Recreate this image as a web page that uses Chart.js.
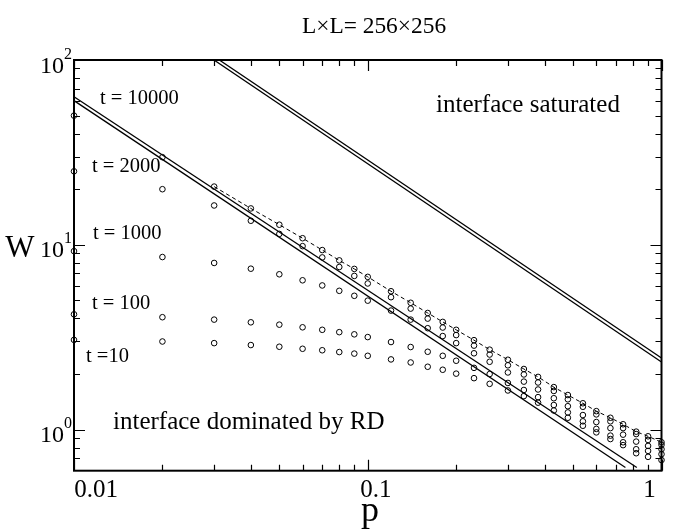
<!DOCTYPE html>
<html><head><meta charset="utf-8">
<script src="https://cdn.jsdelivr.net/npm/chart.js@4/dist/chart.umd.min.js"></script>
<style>html,body{margin:0;padding:0;background:#fff;}#wrap{width:678px;height:532px;position:relative;}</style>
</head><body><div id="wrap"><canvas id="c" width="678" height="532"></canvas></div>
<script>
// ---------- data ----------
const pValues = [0.01,0.02,0.03,0.04,0.05,0.06,0.07,0.08,0.09,0.1,0.12,0.14,0.16,0.18,0.2,0.23,0.26,0.3,0.34,0.38,0.43,0.48,0.54,0.6,0.67,0.74,0.82,0.9,1.0];
const W_t10000 = [50,29.8,20.66,15.74,12.85,10.86,9.37,8.24,7.41,6.71,5.61,4.86,4.28,3.83,3.47,3.05,2.71,2.39,2.13,1.93,1.70,1.54,1.39,1.26,1.16,1.07,0.976,0.921,0.855];
const W_t2000  = [25,20.0,16.33,13.5,11.46,9.84,8.55,7.59,6.79,6.18,5.21,4.52,3.99,3.57,3.25,2.85,2.55,2.23,1.99,1.80,1.62,1.46,1.33,1.21,1.11,1.02,0.947,0.88,0.829];
const W_t1000  = [9.25,8.59,7.98,7.43,6.93,6.43,6.03,5.64,5.30,4.99,4.41,3.94,3.54,3.21,2.94,2.59,2.33,2.04,1.82,1.65,1.48,1.34,1.20,1.10,1.02,0.94,0.862,0.817,0.784];
const W_t100   = [4.21,4.06,3.94,3.81,3.70,3.58,3.47,3.37,3.28,3.17,2.98,2.80,2.64,2.51,2.36,2.16,2.00,1.79,1.64,1.50,1.36,1.24,1.11,1.01,0.929,0.855,0.784,0.768,0.737];
const W_t10    = [3.06,3.0,2.94,2.87,2.81,2.74,2.69,2.63,2.58,2.51,2.40,2.31,2.19,2.11,2.01,1.90,1.77,1.63,1.52,1.40,1.27,1.16,1.05,0.967,0.89,0.825,0.746,0.713,0.685];
const dashedStartIndex = 2;           // dashed curve follows t=10000 from p=0.03
const lineRD_upper  = [[0.01,63.3],[0.824,0.625]];
const lineRD_lower  = [[0.01,60.3],[0.7536,0.625]];
const lineSat_upper = [[0.03124,100],[1.0,2.443]];
const lineSat_lower = [[0.02996,100],[1.0,2.326]];
const xMajorTicks = [0.01,0.1,1];
const xTickLabels = ['0.01','0.1','1'];
const yMajorTicks = [1,10,100];
const yTickExponents = ['0','1','2'];
const seriesLabels = ['t = 10000','t = 2000','t = 1000','t = 100','t =10'];
const titleText = 'L\u00d7L= 256\u00d7256';
const xTitle = 'p', yTitle = 'W';
const regionLabels = ['interface saturated','interface dominated by RD'];
const xRange = [0.01, 1.0], yRange = [0.625, 100];

// ---------- build ----------
const pts = arr => pValues.map((p,i)=>({x:p,y:arr[i]}));
const seg = a => a.map(([x,y])=>({x,y}));
const pointDS = arr => ({data:pts(arr),showLine:false,pointRadius:2.8,pointBorderWidth:1,pointBorderColor:'#000',pointBackgroundColor:'rgba(0,0,0,0)',pointHoverRadius:2.8,clip:false});
const lineDS = (a,dash) => ({data:seg(a),showLine:true,pointRadius:0,borderColor:'#000',borderWidth:dash?1:1.3,borderDash:dash||[],clip:0});

const FONT = '"Liberation Serif","Times New Roman",serif';
const framePlugin = {
  id:'frame',
  afterDraw(chart){
    const ctx = chart.ctx, a = chart.chartArea, xs = chart.scales.x, ys = chart.scales.y;
    ctx.save();
    ctx.strokeStyle='#000'; ctx.lineWidth=2;
    ctx.strokeRect(a.left,a.top,a.right-a.left,a.bottom-a.top);
    ctx.lineWidth=1.2;
    for(let d=-2; d<=0; d++){
      for(let m=1;m<=9;m++){
        const v=m*Math.pow(10,d); if(v<xRange[0]-1e-9||v>xRange[1]+1e-9) continue;
        const px=Math.round(xs.getPixelForValue(v))+0.5, L=(m===1)?11:6;
        ctx.beginPath(); ctx.moveTo(px,a.bottom); ctx.lineTo(px,a.bottom-L);
        ctx.moveTo(px,a.top); ctx.lineTo(px,a.top+L); ctx.stroke();
      }
    }
    for(let d=-1; d<=2; d++){
      for(let m=1;m<=9;m++){
        const v=m*Math.pow(10,d); if(v<yRange[0]-1e-9||v>yRange[1]+1e-9) continue;
        const py=Math.round(ys.getPixelForValue(v))+0.5, L=(m===1)?11:6;
        ctx.beginPath(); ctx.moveTo(a.left,py); ctx.lineTo(a.left+L,py);
        ctx.moveTo(a.right,py); ctx.lineTo(a.right-L,py); ctx.stroke();
      }
    }
    ctx.fillStyle='#000'; ctx.textBaseline='alphabetic';
    yMajorTicks.forEach((v,i)=>{
      const py=ys.getPixelForValue(v);
      ctx.font='24px '+FONT; ctx.textAlign='right'; ctx.fillText('10',64,py+12.5);
      ctx.font='16px '+FONT; ctx.textAlign='left'; ctx.fillText(yTickExponents[i],64,py-1.5);
    });
    ctx.font='25px '+FONT; ctx.textAlign='center';
    const xLabelShift=[22,8,-12];
    xMajorTicks.forEach((v,i)=>{
      ctx.fillText(xTickLabels[i], xs.getPixelForValue(v)+xLabelShift[i], 497);
    });
    ctx.font='23.4px '+FONT; ctx.fillText(titleText,374,33);
    ctx.font='36px '+FONT; ctx.fillText(xTitle,370,521);
    ctx.font='31px '+FONT; ctx.fillText(yTitle,20,257);
    ctx.font='20.5px '+FONT; ctx.textAlign='left';
    const lp=[[100,104],[92,172],[93,238.5],[92,309],[86,361.5]];
    seriesLabels.forEach((s,i)=>ctx.fillText(s,lp[i][0],lp[i][1]));
    ctx.font='25px '+FONT;
    ctx.fillText(regionLabels[0],436,111.5);
    ctx.fillText(regionLabels[1],113,429);
    ctx.restore();
  }
};

new Chart(document.getElementById('c'),{
  type:'scatter',
  data:{datasets:[
    pointDS(W_t10000),pointDS(W_t2000),pointDS(W_t1000),pointDS(W_t100),pointDS(W_t10),
    lineDS(pValues.slice(dashedStartIndex).map((p,i)=>[p,W_t10000[i+dashedStartIndex]]),[4,3]),
    lineDS(lineRD_upper),lineDS(lineRD_lower),lineDS(lineSat_upper),lineDS(lineSat_lower)
  ]},
  options:{
    responsive:false,animation:false,devicePixelRatio:1,
    layout:{padding:{left:74,top:60,right:16.5,bottom:61.3}},
    plugins:{legend:{display:false},tooltip:{enabled:false},title:{display:false}},
    scales:{
      x:{type:'logarithmic',min:xRange[0],max:xRange[1],display:false},
      y:{type:'logarithmic',min:yRange[0],max:yRange[1],display:false}
    }
  },
  plugins:[framePlugin]
});
</script></body></html>
